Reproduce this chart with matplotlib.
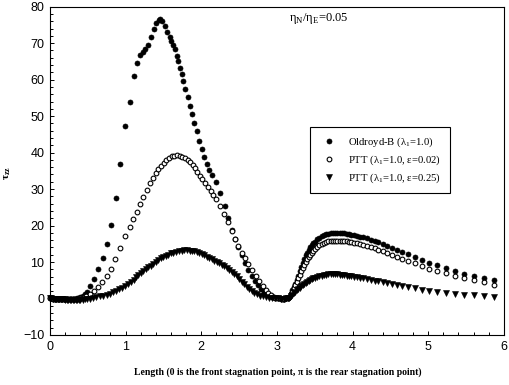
import matplotlib
matplotlib.use("Agg")
import matplotlib.pyplot as plt
from matplotlib.ticker import MultipleLocator

# Front half of the cylinder (0 .. pi), each model on its own surface nodes
ob_x_front = [0.00, 0.02, 0.04, 0.06, 0.08, 0.10, 0.12, 0.14, 0.16, 0.18,
              0.20, 0.22, 0.24, 0.26, 0.28, 0.30, 0.32, 0.34, 0.36, 0.38,
              0.40, 0.43, 0.46, 0.49, 0.535, 0.585, 0.64, 0.70, 0.755, 0.81,
              0.87, 0.93, 0.995, 1.053, 1.105, 1.149, 1.19, 1.225, 1.26, 1.30,
              1.34, 1.375, 1.405, 1.435, 1.46, 1.485, 1.515, 1.55, 1.58, 1.605,
              1.628, 1.65, 1.673, 1.695, 1.717, 1.739, 1.76, 1.787, 1.818, 1.848,
              1.878, 1.909, 1.944, 1.975, 2.005, 2.035, 2.07, 2.105, 2.145, 2.197,
              2.25, 2.307, 2.355, 2.402, 2.447, 2.49, 2.535, 2.58, 2.622, 2.665,
              2.71, 2.752, 2.79, 2.83, 2.865, 2.90, 2.93, 2.96, 2.99, 3.015,
              3.04, 3.06, 3.08, 3.10, 3.12]
ob_y_front = [0.0, 0.0, -0.02, -0.05, -0.08, -0.10, -0.13, -0.16, -0.20, -0.23,
              -0.25, -0.27, -0.28, -0.28, -0.27, -0.25, -0.20, -0.12, 0.0, 0.15,
              0.35, 0.7, 1.2, 1.9, 3.4, 5.4, 8.0, 11.2, 15.0, 20.2,
              27.5, 36.8, 47.3, 54.0, 61.0, 64.7, 66.8, 67.6, 68.3, 69.6,
              71.6, 73.8, 75.6, 76.4, 76.6, 76.1, 74.8, 73.1, 71.7, 70.5,
              69.4, 68.3, 66.4, 65.0, 63.3, 61.5, 59.6, 57.4, 55.3, 52.9,
              50.5, 48.2, 45.8, 43.2, 40.9, 38.8, 36.8, 35.3, 33.8, 31.8,
              28.8, 25.4, 22.0, 18.8, 16.4, 14.0, 11.8, 9.7, 7.9, 6.1,
              4.7, 3.6, 2.7, 1.9, 1.3, 0.85, 0.5, 0.3, 0.15, 0.05,
              0.0, -0.05, -0.05, -0.05, 0.0]

ptt1_x_front = [0.00, 0.02, 0.04, 0.06, 0.08, 0.10, 0.12, 0.14, 0.16, 0.18,
                0.20, 0.22, 0.24, 0.26, 0.28, 0.30, 0.32, 0.34, 0.36, 0.38,
                0.40, 0.425, 0.45, 0.476, 0.529, 0.577, 0.629, 0.686, 0.751, 0.808,
                0.861, 0.931, 0.996, 1.057, 1.101, 1.149, 1.193, 1.236, 1.28, 1.319,
                1.359, 1.398, 1.433, 1.468, 1.503, 1.537, 1.573, 1.608, 1.642, 1.678,
                1.713, 1.747, 1.782, 1.818, 1.852, 1.887, 1.918, 1.949, 1.983, 2.014,
                2.05, 2.085, 2.125, 2.16, 2.197, 2.25, 2.302, 2.35, 2.402, 2.447,
                2.49, 2.533, 2.578, 2.621, 2.67, 2.72, 2.765, 2.81, 2.85, 2.885,
                2.92, 2.95, 2.98, 3.01, 3.04, 3.07, 3.10, 3.12]
ptt1_y_front = [0.0, 0.0, -0.02, -0.05, -0.08, -0.10, -0.13, -0.16, -0.20, -0.23,
                -0.25, -0.27, -0.28, -0.28, -0.27, -0.25, -0.22, -0.18, -0.12, -0.05,
                0.05, 0.2, 0.35, 0.55, 1.2, 2.1, 3.2, 4.6, 6.2, 8.0,
                10.7, 13.75, 17.1, 19.7, 21.8, 23.8, 25.8, 27.7, 29.8, 31.6,
                32.9, 34.3, 35.4, 36.4, 37.2, 37.9, 38.6, 39.0, 39.2, 39.25,
                39.1, 38.8, 38.4, 37.9, 37.3, 36.6, 35.7, 34.7, 33.6, 32.7,
                31.7, 30.6, 29.5, 28.5, 27.4, 25.3, 23.2, 20.9, 18.6, 16.3,
                14.3, 12.5, 11.0, 9.4, 7.8, 6.2, 4.7, 3.3, 2.3, 1.5,
                0.9, 0.5, 0.25, 0.1, 0.0, -0.05, -0.05, 0.0]

ptt2_x_front = [0.00, 0.02, 0.04, 0.06, 0.08, 0.10, 0.12, 0.14, 0.16, 0.18,
                0.20, 0.22, 0.24, 0.26, 0.28, 0.30, 0.32, 0.34, 0.36, 0.38,
                0.40, 0.43, 0.46, 0.49, 0.524, 0.565, 0.612, 0.66, 0.705, 0.751,
                0.79, 0.83, 0.87, 0.909, 0.95, 0.996, 1.035, 1.07, 1.105, 1.136,
                1.17, 1.20, 1.235, 1.267, 1.30, 1.332, 1.365, 1.398, 1.43, 1.464,
                1.497, 1.529, 1.56, 1.595, 1.627, 1.66, 1.70, 1.739, 1.776, 1.813,
                1.845, 1.878, 1.91, 1.944, 1.976, 2.009, 2.042, 2.075, 2.108, 2.14,
                2.173, 2.206, 2.24, 2.272, 2.305, 2.337, 2.37, 2.402, 2.435, 2.468,
                2.50, 2.533, 2.566, 2.60, 2.632, 2.664, 2.70, 2.735, 2.77, 2.81,
                2.85, 2.89, 2.93, 2.97, 3.01, 3.05, 3.09, 3.12]
ptt2_y_front = [0.0, 0.0, -0.02, -0.05, -0.08, -0.12, -0.16, -0.20, -0.24, -0.28,
                -0.31, -0.34, -0.36, -0.38, -0.39, -0.40, -0.40, -0.40, -0.39, -0.37,
                -0.35, -0.30, -0.23, -0.15, -0.05, 0.1, 0.3, 0.55, 0.8, 1.05,
                1.35, 1.65, 2.05, 2.5, 2.95, 3.45, 4.0, 4.6, 5.2, 5.8,
                6.4, 6.95, 7.5, 8.0, 8.5, 9.0, 9.55, 10.1, 10.6, 11.0,
                11.35, 11.65, 12.0, 12.35, 12.6, 12.8, 13.0, 13.1, 13.2, 13.2,
                13.15, 13.05, 12.9, 12.7, 12.45, 12.2, 11.85, 11.5, 11.1, 10.75,
                10.4, 10.05, 9.65, 9.25, 8.8, 8.35, 7.85, 7.3, 6.7, 6.05,
                5.35, 4.65, 3.95, 3.25, 2.6, 2.0, 1.5, 1.1, 0.8, 0.55,
                0.35, 0.2, 0.1, 0.05, 0.0, -0.03, -0.03, 0.0]

# Rear half (pi .. end), shared nodes
x_rear = [3.14, 3.16, 3.18, 3.20, 3.22, 3.24, 3.26, 3.28, 3.30, 3.32,
          3.34, 3.36, 3.38, 3.40, 3.42, 3.44, 3.46, 3.48, 3.50, 3.53,
          3.56, 3.59, 3.62, 3.65, 3.68, 3.71, 3.74, 3.77, 3.80, 3.83,
          3.86, 3.89, 3.92, 3.95, 3.98, 4.02, 4.06, 4.10, 4.14, 4.19,
          4.24, 4.29, 4.34, 4.40, 4.46, 4.52, 4.587, 4.657, 4.731, 4.819,
          4.915, 5.015, 5.12, 5.233, 5.351, 5.474, 5.6, 5.731, 5.875]
ob_y_rear = [0.0, 0.5, 1.3, 2.2, 3.1, 4.1, 5.1, 6.3, 7.5, 8.7,
             9.8, 10.8, 11.8, 12.6, 13.4, 14.1, 14.7, 15.2, 15.6, 16.2,
             16.7, 17.1, 17.4, 17.65, 17.8, 17.95, 18.0, 18.05, 18.05, 18.0,
             17.95, 17.85, 17.75, 17.65, 17.5, 17.35, 17.15, 16.95, 16.75, 16.45,
             16.15, 15.8, 15.4, 14.95, 14.45, 13.9, 13.35, 12.75, 12.1, 11.4,
             10.6, 9.8, 9.05, 8.3, 7.55, 6.8, 6.1, 5.5, 5.0]
ptt1_y_rear = [0.0, 0.4, 1.1, 1.9, 2.8, 3.7, 4.6, 5.6, 6.5, 7.4,
               8.3, 9.2, 10.0, 10.7, 11.4, 12.0, 12.6, 13.1, 13.5, 14.1,
               14.6, 15.0, 15.3, 15.5, 15.65, 15.75, 15.8, 15.85, 15.85, 15.85,
               15.8, 15.75, 15.65, 15.55, 15.45, 15.3, 15.1, 14.9, 14.7, 14.4,
               14.1, 13.75, 13.4, 12.95, 12.5, 12.0, 11.45, 10.9, 10.3, 9.6,
               8.9, 8.2, 7.5, 6.85, 6.2, 5.55, 4.95, 4.4, 3.8]
ptt2_y_rear = [0.0, 0.25, 0.6, 1.0, 1.4, 1.8, 2.2, 2.6, 3.0, 3.35,
               3.7, 4.0, 4.3, 4.6, 4.85, 5.1, 5.3, 5.5, 5.7, 5.95,
               6.15, 6.3, 6.45, 6.55, 6.6, 6.65, 6.65, 6.65, 6.6, 6.55,
               6.5, 6.4, 6.3, 6.2, 6.1, 5.95, 5.8, 5.65, 5.5, 5.3,
               5.1, 4.9, 4.7, 4.45, 4.2, 3.95, 3.65, 3.35, 3.05, 2.75,
               2.4, 2.1, 1.8, 1.55, 1.3, 1.05, 0.85, 0.65, 0.45]

labels = ["Oldroyd-B (λ$_\\mathregular{1}$=1.0)",
          "PTT (λ$_\\mathregular{1}$=1.0, ε=0.02)",
          "PTT (λ$_\\mathregular{1}$=1.0, ε=0.25)"]

serif = "Liberation Serif"
sans = "Liberation Sans"

fig = plt.figure(figsize=(5.1, 3.85), dpi=100)
ax = fig.add_axes([0.098, 0.13, 0.89, 0.8526])

ax.plot(ob_x_front + x_rear, ob_y_front + ob_y_rear, linestyle="none",
        marker="o", ms=3.6, mfc="black", mec="black", mew=0.5,
        label=labels[0], clip_on=False)
ax.plot(ptt1_x_front + x_rear, ptt1_y_front + ptt1_y_rear, linestyle="none",
        marker="o", ms=3.4, mfc="white", mec="black", mew=0.8,
        label=labels[1], clip_on=False)
ax.plot(ptt2_x_front + x_rear, ptt2_y_front + ptt2_y_rear, linestyle="none",
        marker="v", ms=3.9, mfc="black", mec="black", mew=0.4,
        label=labels[2], clip_on=False)

ax.set_xlim(0, 6)
ax.set_ylim(-10, 80)
ax.xaxis.set_major_locator(MultipleLocator(1))
ax.xaxis.set_minor_locator(MultipleLocator(0.2))
ax.yaxis.set_major_locator(MultipleLocator(10))
ax.yaxis.set_minor_locator(MultipleLocator(2))
ax.tick_params(which="both", direction="in", top=False, right=False, width=0.7)
ax.tick_params(which="major", length=3.2, labelsize=9, pad=4)
ax.tick_params(which="minor", length=2)
for lab in ax.get_xticklabels() + ax.get_yticklabels():
    lab.set_fontfamily(sans)
for sp in ax.spines.values():
    sp.set_linewidth(0.8)

ax.set_xlabel("Length (0 is the front stagnation point, π is the rear stagnation point)",
              fontfamily=serif, fontweight="bold", fontsize=7)
ax.xaxis.set_label_coords(0.502, -0.098)
ax.set_ylabel("τ$_\\mathregular{zz}$", fontfamily=serif, fontweight="bold", fontsize=8)
ax.yaxis.set_label_coords(-0.082, 0.493)

ax.text(0.527, 0.963, "η$_\\mathregular{N}$/η$_\\mathregular{E}$=0.05",
        transform=ax.transAxes, ha="left", va="center",
        fontfamily=serif, fontsize=9)

leg = ax.legend(loc="upper left", bbox_to_anchor=(0.573, 0.6336),
                borderaxespad=0, prop={"family": serif, "size": 7.7},
                frameon=True, fancybox=False, edgecolor="black", framealpha=1,
                numpoints=1, handlelength=2.0, handletextpad=0.74,
                borderpad=0.8, labelspacing=0.4)
leg.get_frame().set_linewidth(0.8)

fig.savefig("out.png", dpi=100, facecolor="white")
